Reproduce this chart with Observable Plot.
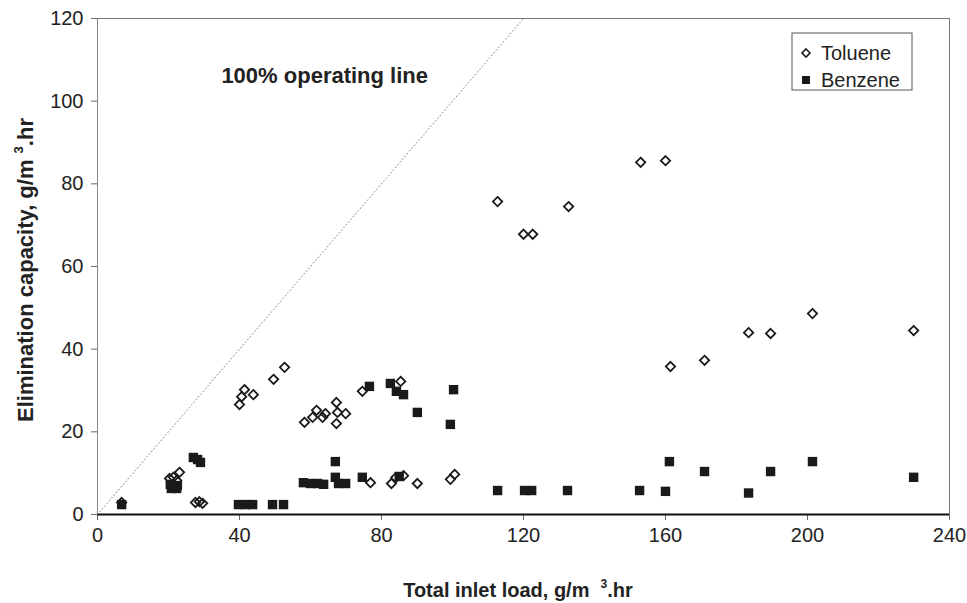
<!DOCTYPE html>
<html><head><meta charset="utf-8">
<script src="https://cdn.jsdelivr.net/npm/d3@7"></script>
<script src="https://cdn.jsdelivr.net/npm/@observablehq/plot@0.6"></script>
<style>body{margin:0;background:#fff} #chart{width:967px;height:603px}</style>
</head><body><div id="chart"></div>
<script>
// Toluene (open diamonds)
const tolueneX = [6.8, 20.3, 21.4, 22.3, 23.1, 27.6, 28.7, 29.6, 40.0, 40.6, 41.4, 43.9, 49.6, 52.7,
  58.3, 60.6, 61.7, 63.4, 64.2, 67.3, 67.6, 69.9, 67.3, 74.6, 85.4,
  76.9, 82.8, 84.0, 86.2, 90.1, 99.4, 100.6,
  112.7, 120.0, 122.6, 132.7, 153.0, 160.0,
  161.4, 171.0, 183.4, 189.6, 201.4, 229.9];
const tolueneY = [2.9, 8.7, 9.0, 8.2, 10.2, 2.9, 3.1, 2.7, 26.6, 28.5, 30.2, 29.0, 32.7, 35.6,
  22.3, 23.5, 25.2, 23.5, 24.4, 27.1, 24.7, 24.4, 22.0, 29.8, 32.2,
  7.7, 7.5, 8.9, 9.4, 7.5, 8.5, 9.7,
  75.7, 67.8, 67.8, 74.5, 85.2, 85.6,
  35.8, 37.3, 44.0, 43.8, 48.6, 44.5];
// Benzene (filled squares)
const benzeneX = [6.8, 20.5, 22.5, 20.8, 22.3, 27.0, 28.2, 29.0,
  39.7, 41.7, 43.7, 49.3, 52.4,
  58.0, 60.0, 62.0, 63.7, 67.0, 67.9, 69.9, 67.0, 74.6, 85.0,
  76.6, 82.5, 84.2, 86.2, 90.1, 100.3, 99.4,
  112.7, 120.3, 122.3, 132.4, 152.7, 160.0, 183.4,
  161.1, 171.0, 189.6, 201.4, 229.9];
const benzeneY = [2.4, 7.3, 7.0, 6.3, 6.3, 13.8, 13.3, 12.6,
  2.4, 2.4, 2.4, 2.4, 2.4,
  7.7, 7.5, 7.5, 7.3, 9.0, 7.5, 7.5, 12.8, 9.0, 9.2,
  31.0, 31.7, 29.8, 29.0, 24.7, 30.2, 21.8,
  5.8, 5.8, 5.8, 5.8, 5.8, 5.6, 5.2,
  12.8, 10.4, 10.4, 12.8, 9.0];
// 100% operating line (elimination = load)
const lineX = [0, 120];
const lineY = [0, 120];
const xTicks = [0, 40, 80, 120, 160, 200, 240];
const yTicks = [0, 20, 40, 60, 80, 100, 120];
const annotText = ["100% operating line"];
const annotX = [64];
const annotY = [106];
const seriesNames = ["Toluene", "Benzene"];

const toluene = tolueneX.map((x, i) => ({x, y: tolueneY[i]}));
const benzene = benzeneX.map((x, i) => ({x, y: benzeneY[i]}));
const diag = lineX.map((x, i) => ({x, y: lineY[i]}));
const annot = annotText.map((t, i) => ({t, x: annotX[i], y: annotY[i]}));

const FONT = "'Liberation Sans', Arial, sans-serif";
const chart = Plot.plot({
  width: 967, height: 603,
  marginLeft: 97, marginRight: 18, marginTop: 18, marginBottom: 89,
  style: {fontFamily: FONT, fontSize: "20px", color: "#222", background: "#fff"},
  x: {domain: [0, 240]},
  y: {domain: [0, 120]},
  marks: [
    Plot.frame({stroke: "#777"}),
    Plot.axisX({ticks: xTicks, tickSize: 6, tickPadding: 7, label: null, stroke: "#666", fontSize: 20}),
    Plot.axisY({ticks: yTicks, tickSize: 6, tickPadding: 8, label: null, stroke: "#666", fontSize: 20}),
    Plot.ruleX([0], {stroke: "#888"}),
    Plot.ruleY([0], {stroke: "#111", strokeWidth: 2}),
    Plot.line(diag, {x: "x", y: "y", stroke: "#888", strokeDasharray: "1,2.6", strokeWidth: 1}),
    Plot.dot(toluene, {x: "x", y: "y", symbol: "diamond2", r: 4.2, stroke: "#1a1a1a", strokeWidth: 1.8, fill: "none"}),
    Plot.dot(benzene, {x: "x", y: "y", symbol: "square", r: 5.3, fill: "#1a1a1a", stroke: "none"}),
    Plot.text(annot, {x: "x", y: "y", text: "t", fontWeight: "bold", fontSize: 22, fill: "#222"})
  ]
});
document.getElementById("chart").appendChild(chart);

const svg = d3.select(chart);
// Axis titles with superscript
function title(g, pre, post, sup, shift) {
  g.append("tspan").text(pre);
  g.append("tspan").attr("dy", -shift).attr("font-size", sup).text("3");
  g.append("tspan").attr("dy", shift).text(post);
}
const xt = svg.append("text").attr("x", 518).attr("y", 597).attr("text-anchor", "middle")
  .attr("font-family", FONT).attr("font-weight", "bold").attr("font-size", 20).attr("fill", "#222");
title(xt, "Total inlet load, g/m  ", ".hr", 12, 9);
const yt = svg.append("text").attr("transform", "translate(33,270) rotate(-90)").attr("text-anchor", "middle")
  .attr("font-family", FONT).attr("font-weight", "bold").attr("font-size", 22).attr("fill", "#222");
title(yt, "Elimination capacity, g/m ", ".hr", 13, 10);

// Legend
const lg = svg.append("g").attr("font-family", FONT).attr("font-size", 20).attr("fill", "#222")
  .attr("text-anchor", "start");
lg.append("rect").attr("x", 792).attr("y", 33).attr("width", 120).attr("height", 57)
  .attr("fill", "#fff").attr("stroke", "#555");
const sym = [d3.symbol(d3.symbolDiamond2, Math.PI * 3.6 * 3.6), d3.symbol(d3.symbolSquare, 64)];
seriesNames.forEach((name, i) => {
  const cy = 53 + i * 27;
  lg.append("path").attr("d", sym[i]()).attr("transform", `translate(806,${cy})`)
    .attr("fill", i ? "#1a1a1a" : "none").attr("stroke", i ? "none" : "#1a1a1a").attr("stroke-width", 1.6);
  lg.append("text").attr("x", 821).attr("y", cy).attr("dy", "0.35em").attr("text-anchor", "start").text(name);
});
</script>
</body></html>
